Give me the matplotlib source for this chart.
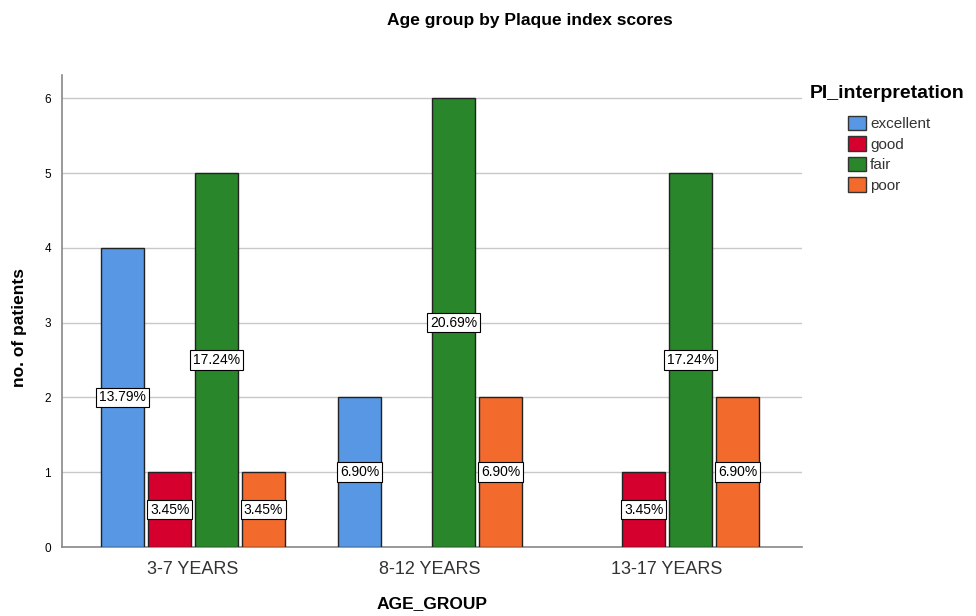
import matplotlib.pyplot as plt
import numpy as np
from matplotlib.patches import Patch

plt.rcParams['font.family'] = ['Liberation Sans', 'DejaVu Sans']

# data
age_groups = ["3-7 YEARS", "8-12 YEARS", "13-17 YEARS"]
categories = ["excellent", "good", "fair", "poor"]
counts = {
    "excellent": [4, 2, 0],
    "good": [1, 0, 1],
    "fair": [5, 6, 5],
    "poor": [1, 2, 2],
}
percent_labels = {
    "excellent": ["13.79%", "6.90%", ""],
    "good": ["3.45%", "", "3.45%"],
    "fair": ["17.24%", "20.69%", "17.24%"],
    "poor": ["3.45%", "6.90%", "6.90%"],
}
colors = ["#5797E4", "#D6002E", "#29862A", "#F26B2C"]

fig = plt.figure(figsize=(9.76, 6.16), dpi=100)
ax = fig.add_axes([0.0635, 0.112, 0.7585, 0.766])

x = np.arange(len(age_groups))
step = 0.198
width = 0.181

for i, cat in enumerate(categories):
    pos = x + (i - 1.5) * step
    vals = np.array(counts[cat])
    mask = vals > 0
    ax.bar(pos[mask], vals[mask], width=width, color=colors[i],
           edgecolor="#222222", linewidth=1.0, zorder=3)
    for p, v, lab in zip(pos, vals, percent_labels[cat]):
        if v > 0 and lab:
            ax.text(p, v / 2, lab, ha="center", va="center", fontsize=10,
                    zorder=5,
                    bbox=dict(boxstyle="square,pad=0.2", facecolor="white",
                              edgecolor="black", linewidth=0.8))

ax.set_xlim(-0.553, 2.57)
ax.set_ylim(0, 6.31)
ax.set_yticks(range(0, 7))
ax.set_xticks(x)
ax.set_xticklabels(age_groups, fontsize=13, color="#333333")
ax.tick_params(axis="y", labelsize=8.5, length=0, pad=8)
ax.tick_params(axis="x", length=0, pad=10)
ax.yaxis.grid(True, color="#c8c8c8", linewidth=1.0, zorder=0)
ax.set_axisbelow(True)
for s in ["top", "right"]:
    ax.spines[s].set_visible(False)
ax.spines["left"].set_color("#888888")
ax.spines["bottom"].set_color("#888888")
ax.spines["left"].set_linewidth(1.2)
ax.spines["bottom"].set_linewidth(1.2)

fig.text(20 / 976, 1 - 327 / 616, "no. of patients", rotation=90,
         ha="center", va="center", fontsize=12.5, fontweight="bold")
fig.text(432 / 976, 1 - 604 / 616, "AGE_GROUP",
         ha="center", va="center", fontsize=12.5, fontweight="bold")

fig.text(530 / 976, 1 - 20 / 616, "Age group by Plaque index scores",
         ha="center", va="center", fontsize=12.5, fontweight="bold")

# legend
fig.text(810 / 976, 1 - 93 / 616, "PI_interpretation",
         ha="left", va="center", fontsize=14, fontweight="bold")
handles = [Patch(facecolor=c, edgecolor="#333333", label=l)
           for c, l in zip(colors, categories)]
leg = fig.legend(handles=handles, loc="upper left",
                 bbox_to_anchor=(834 / 976, 1 - 102 / 616),
                 frameon=False, fontsize=11,
                 handlelength=1.2, handleheight=1.1, handletextpad=0.25,
                 labelspacing=0.32)
for t in leg.get_texts():
    t.set_color("#333333")

fig.savefig("out.png", dpi=100)
